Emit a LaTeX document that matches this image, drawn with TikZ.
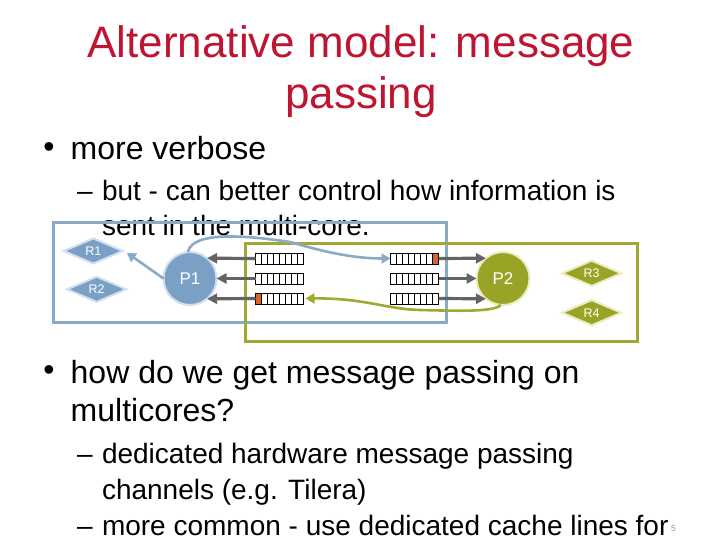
\documentclass[tikz,border=0pt]{standalone}
\usepackage{fontspec}
\setmainfont{Liberation Sans}
\usetikzlibrary{shapes.geometric,arrows.meta,calc}
\definecolor{ttl}{RGB}{190,22,50}
\definecolor{bfill}{RGB}{122,161,197}
\definecolor{bline}{RGB}{138,170,197}
\definecolor{bglow}{RGB}{208,224,240}
\definecolor{ofill}{RGB}{153,163,37}
\definecolor{oline}{RGB}{162,168,52}
\definecolor{oglow}{RGB}{236,236,195}
\definecolor{gline}{RGB}{100,100,100}
\definecolor{qorange}{RGB}{217,102,41}
\definecolor{pnum}{RGB}{150,150,150}
\begin{document}
\begin{tikzpicture}[x=1pt,y=-1pt,
  txt/.style={anchor=base west, inner sep=0, outer sep=0},
  lvl1/.style={txt, font=\fontsize{32}{38}\selectfont},
  lvl2/.style={txt, font=\fontsize{28}{34}\selectfont},
  ttlfont/.style={anchor=base, inner sep=0, text=ttl, font=\fontsize{44}{44}\selectfont},
  proc/.style={circle, minimum size=53pt, inner sep=0, outer sep=0, line width=2pt, text=white, font=\fontsize{17}{17}\selectfont},
  res/.style={diamond, aspect=2.3, minimum width=60pt, minimum height=26pt, inner sep=0, line width=2pt, text=white, font=\fontsize{12.5}{12.5}\selectfont},
  queue/.style={draw=black, fill=white, minimum width=48pt, minimum height=11pt, inner sep=0, outer sep=0, line width=0.8pt,
    path picture={\foreach \i in {1,...,7} \draw[line width=0.6pt] ([xshift=\i*6pt]path picture bounding box.north west) -- ([xshift=\i*6pt]path picture bounding box.south west);}},
  garrow/.style={draw=gline, line width=3.2pt, -{Triangle[length=10pt,width=10pt]}},
  barrow/.style={draw=bline, line width=2.6pt, -{Triangle[length=9pt,width=10pt]}},
  oarrow/.style={draw=oline, line width=2.6pt, -{Triangle[length=9pt,width=10pt]}},
  boxline/.style={line width=3pt}]
\useasboundingbox (0,0) rectangle (720,540);

% title
\node[ttlfont] (title1) at (361,58) {Alternative model: message};
\node[ttlfont] (title2) at (361,109) {passing};

% text
\node[lvl1, anchor=center] (bul1) at (49,150.5) {•};
\node[lvl1] (t1) at (70.7,160) {more verbose};
\node[lvl2] (d1) at (77,201) {–};
\node[lvl2] (t2) at (102,201) {but - can better control how information is};
\node[lvl2] (t3) at (102,236) {sent in the multi-core.};
\node[lvl1, anchor=center] (bul2) at (49,373.5) {•};
\node[lvl1] (t4) at (70.7,383) {how do we get message passing on};
\node[lvl1] (t5) at (70.7,421) {multicores?};
\node[lvl2] (d2) at (77,463) {–};
\node[lvl2] (t6) at (102,463) {dedicated hardware message passing};
\node[lvl2] (t7) at (102,499) {channels (e.g. Tilera)};
\node[lvl2] (d3) at (77,535) {–};
\node[lvl2] (t8) at (102,535) {more common - use dedicated cache lines for};
\node[txt, text=pnum, font=\fontsize{8.5}{9}\selectfont] (pn) at (671,531) {5};

% regions
\draw[boxline, draw=bline] (53,223) rectangle (446,322);
\draw[boxline, draw=oline] (245,243) rectangle (637,341);

% queues
\node[queue] (lq1) at (279.5,258.5) {};
\node[queue] (lq2) at (279.5,278.5) {};
\node[queue] (lq3) at (279.5,298.5) {};
\node[queue] (rq1) at (414.5,258.5) {};
\node[queue] (rq2) at (414.5,278.5) {};
\node[queue] (rq3) at (414.5,298.5) {};
\draw[fill=qorange, line width=0.8pt] (lq3.north west) rectangle ([xshift=6pt]lq3.south west);
\draw[fill=qorange, line width=0.8pt] ([xshift=-6pt]rq1.north east) rectangle (rq1.south east);

% processors and resources
\node[proc, fill=bfill, draw=bglow] (P1) at (190,278.5) {P1};
\node[proc, fill=ofill, draw=oglow] (P2) at (503,278.5) {P2};
\node[res, fill=bfill, draw=bglow] (R1) at (93.3,251) {R1};
\node[res, fill=bfill, draw=bglow] (R2) at (96.7,289.3) {R2};
\node[res, fill=ofill, draw=oglow] (R3) at (591.7,273.3) {R3};
\node[res, fill=ofill, draw=oglow] (R4) at (591.7,312.7) {R4};

% gray arrows
\draw[garrow] (lq1.west) -- (P1.50);
\draw[garrow] (lq2.west) -- (P1.east);
\draw[garrow] (lq3.west) -- (P1.-50);
\draw[garrow] (rq1.east) -- (P2.130);
\draw[garrow] (rq2.east) -- (P2.west);
\draw[garrow] (rq3.east) -- (P2.230);

% blue arrows
\draw[barrow, shorten >=3pt] (P1.west) -- (R1.east);
\coordinate (bw1) at (290,242);
\draw[barrow] (P1.95) .. controls (193,230) and (250,236) .. (bw1) .. controls (318,250) and (350,258.5) .. (rq1.west);

% olive arrow
\coordinate (ow1) at (420,310);
\draw[oarrow, shorten >=2pt] (P2.265) .. controls (495,312) and (460,311) .. (ow1) .. controls (385,309) and (365,298) .. (lq3.east);
\end{tikzpicture}
\end{document}
